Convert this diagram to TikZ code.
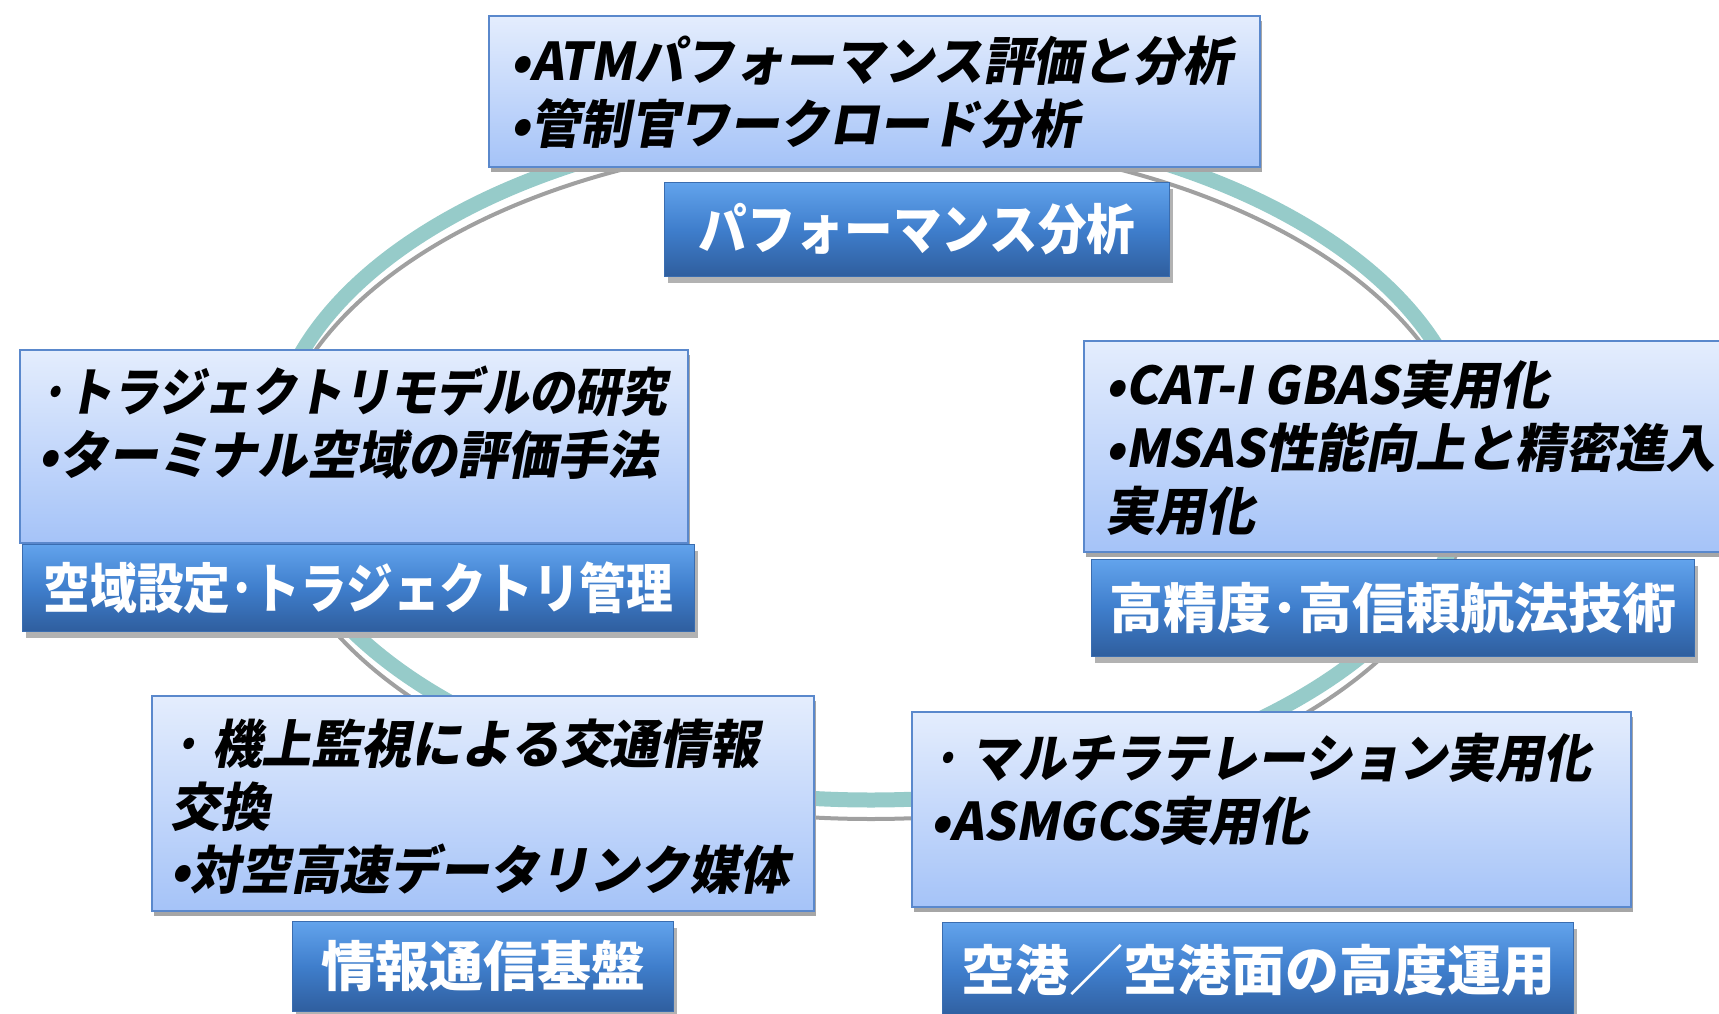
\documentclass[tikz,border=0pt]{standalone}
\usepackage{fontspec}
\usetikzlibrary{shadows}
\newfontfamily\jp{Noto Sans CJK JP}
\newfontfamily\jpbi{Noto Sans CJK JP}[FakeSlant=0.18, FakeStretch=0.96]
\definecolor{ringteal}{HTML}{96CBC9}
\definecolor{ringgray}{HTML}{A0A0A0}
\definecolor{boxtop}{HTML}{E4EDFD}
\definecolor{boxbot}{HTML}{A5C3F8}
\definecolor{boxedge}{HTML}{5A88CC}
\definecolor{labtop}{HTML}{62A3EC}
\definecolor{labmid}{HTML}{3F7ECC}
\definecolor{labbot}{HTML}{2F5E9E}
\definecolor{labedge}{HTML}{3A6DB0}
\tikzset{
  ring/.style={draw=ringteal, line width=15pt},
  ringshade/.style={draw=ringgray, line width=4pt},
  bodybox/.style={draw=boxedge, line width=2pt, top color=boxtop, bottom color=boxbot,
    drop shadow={shadow xshift=2pt, shadow yshift=-5pt, fill=black!35, opacity=1},
    anchor=north west, inner sep=0pt},
  labelbox/.style={draw=labedge, line width=1pt, top color=labtop, bottom color=labbot, middle color=labmid,
    drop shadow={shadow xshift=3pt, shadow yshift=-6pt, fill=black!30, opacity=1},
    anchor=north west, inner sep=0pt, text=white, font=\jp\bfseries\fontsize{54}{60}\selectfont},
  bodytext/.style={anchor=north west, align=left, inner sep=0pt, text=black,
    font=\jpbi\bfseries\fontsize{52}{63}\selectfont}
}
\begin{document}
\begin{tikzpicture}[x=1pt,y=-1pt]
\useasboundingbox (0,0) rectangle (1719,1014);
\clip (0,0) rectangle (1719,1014);
% ring
\draw[ringshade] (871,479) ellipse [x radius=600, y radius=340];
\draw[ring] (871,460) ellipse [x radius=600, y radius=340];
% top
\node[bodybox, minimum width=771pt, minimum height=151pt] (topbox) at (488,15) {};
\node[bodytext] (toptext) at (510,36) {•ATMパフォーマンス評価と分析\\•管制官ワークロード分析};
\node[labelbox, minimum width=505pt, minimum height=94pt] (toplab) at (664,182) {\addfontfeature{FakeStretch=0.9}パフォーマンス分析};
% left
\node[bodybox, minimum width=668pt, minimum height=193pt] (leftbox) at (19,349) {};
\node[bodytext] (lefttext) at (38,366) {{\addfontfeature{FakeStretch=0.89}·トラジェクトリモデルの研究}\\•ターミナル空域の評価手法};
\node[labelbox, minimum width=672pt, minimum height=87pt] (leftlab) at (22,544) {\addfontfeature{FakeStretch=0.865}空域設定･トラジェクトリ管理};
% right
\node[bodybox, minimum width=660pt, minimum height=211pt] (rightbox) at (1083,340) {};
\node[bodytext] (righttext) at (1105,360) {•CAT-I GBAS実用化\\•MSAS性能向上と精密進入\\実用化};
\node[labelbox, minimum width=603pt, minimum height=97pt] (rightlab) at (1091,559) {高精度･高信頼航法技術};
% bottom left
\node[bodybox, minimum width=662pt, minimum height=215pt] (blbox) at (151,695) {};
\node[bodytext] (bltext) at (170,719) {· 機上監視による交通情報\\交換\\•対空高速データリンク媒体};
\node[labelbox, minimum width=381pt, minimum height=90pt] (bllab) at (292,921) {情報通信基盤};
% bottom right
\node[bodybox, minimum width=719pt, minimum height=195pt] (brbox) at (911,711) {};
\node[bodytext] (brtext) at (930,733) {{\addfontfeature{FakeStretch=0.92}· マルチラテレーション実用化}\\•ASMGCS実用化};
\node[labelbox, minimum width=631pt, minimum height=96pt] (brlab) at (942,922) {空港／空港面の高度運用};
\end{tikzpicture}
\end{document}
